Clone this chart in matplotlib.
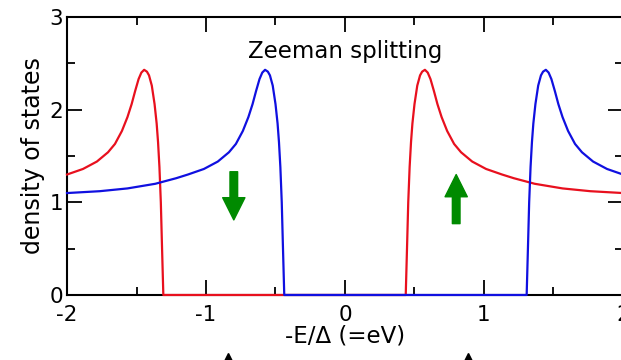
#!/usr/bin/env python3
# -*- coding: utf-8 -*-
"""Zeeman-split superconducting density of states (spin up / spin down)."""

import matplotlib

matplotlib.use("Agg")
import matplotlib.pyplot as plt
from matplotlib.ticker import MultipleLocator

# ==========================================================================
# Data
# ==========================================================================
# spin-up branch (red): shifted towards negative -E/Delta
RED_X = [-2.000, -1.885, -1.785, -1.705, -1.655, -1.605, -1.565, -1.535, -1.510,
         -1.485, -1.465, -1.445, -1.425, -1.410, -1.390, -1.370, -1.355, -1.345,
         -1.335, -1.325, -1.317, -1.307,
         0.437, 0.447, 0.455, 0.465, 0.475, 0.485, 0.500, 0.520, 0.540, 0.555,
         0.575, 0.595, 0.615, 0.640, 0.665, 0.695, 0.735, 0.785, 0.835, 0.915,
         1.015, 1.130, 1.215, 1.365, 1.565, 1.765, 2.000]
RED_Y = [1.30, 1.36, 1.44, 1.54, 1.63, 1.77, 1.92, 2.06, 2.20,
         2.33, 2.40, 2.43, 2.41, 2.37, 2.26, 2.06, 1.85, 1.65,
         1.38, 1.00, 0.55, 0.00,
         0.00, 0.55, 1.00, 1.38, 1.65, 1.85, 2.06, 2.26, 2.37, 2.41,
         2.43, 2.40, 2.33, 2.20, 2.06, 1.92, 1.77, 1.63, 1.54, 1.44,
         1.36, 1.30, 1.26, 1.20, 1.15, 1.12, 1.10]

# spin-down branch (blue): shifted towards positive -E/Delta
BLUE_X = [-2.000, -1.765, -1.565, -1.365, -1.215, -1.130, -1.015, -0.915, -0.835,
          -0.785, -0.735, -0.695, -0.665, -0.640, -0.615, -0.595, -0.575, -0.555,
          -0.540, -0.520, -0.500, -0.485, -0.475, -0.465, -0.455, -0.447, -0.437,
          1.307, 1.317, 1.325, 1.335, 1.345, 1.355, 1.370, 1.390, 1.410, 1.425,
          1.445, 1.465, 1.485, 1.510, 1.535, 1.565, 1.605, 1.655, 1.705, 1.785,
          1.885, 2.000]
BLUE_Y = [1.10, 1.12, 1.15, 1.20, 1.26, 1.30, 1.36, 1.44, 1.54,
          1.63, 1.77, 1.92, 2.06, 2.20, 2.33, 2.40, 2.43, 2.41,
          2.37, 2.26, 2.06, 1.85, 1.65, 1.38, 1.00, 0.55, 0.00,
          0.00, 0.55, 1.00, 1.38, 1.65, 1.85, 2.06, 2.26, 2.37, 2.41,
          2.43, 2.40, 2.33, 2.20, 2.06, 1.92, 1.77, 1.63, 1.54, 1.44,
          1.36, 1.30]

# green spin arrows: (x, tail y, tip y)
SPIN_ARROWS = [(-0.80, 1.33, 0.81), (0.80, 0.77, 1.30)]
# black markers below the x label
MARKER_X = [-0.84, 0.885]

XLIM = (-2, 2)
YLIM = (0, 3)

plt.rcParams["font.family"] = "DejaVu Sans"
plt.rcParams["axes.unicode_minus"] = False


def main():
    fig = plt.figure(figsize=(6.21, 3.6), dpi=100)
    ax = fig.add_axes([0.1079, 0.1806, 0.8953, 0.7722])

    ax.plot(RED_X, RED_Y, color="#e8101e", lw=1.6, zorder=3, clip_on=False)
    ax.plot(BLUE_X, BLUE_Y, color="#1010e0", lw=1.6, zorder=4, clip_on=False)

    for x, y0, y1 in SPIN_ARROWS:
        ax.arrow(x, y0, 0, y1 - y0, width=0.055, head_width=0.16,
                 head_length=0.24, length_includes_head=True,
                 color="#008a00", joinstyle="round", zorder=5)

    ax.plot(MARKER_X, [-0.232] * len(MARKER_X), "^", color="black", ms=9,
            transform=ax.get_xaxis_transform(), clip_on=False)

    ax.text(0.0, 2.63, "Zeeman splitting", ha="center", va="center", fontsize=16.5)

    ax.set_xlim(*XLIM)
    ax.set_ylim(*YLIM)
    ax.xaxis.set_major_locator(MultipleLocator(1))
    ax.xaxis.set_minor_locator(MultipleLocator(0.5))
    ax.yaxis.set_major_locator(MultipleLocator(1))
    ax.yaxis.set_minor_locator(MultipleLocator(0.5))
    ax.tick_params(which="both", direction="in", top=True, right=True, width=1.3)
    ax.tick_params(which="major", length=11)
    ax.tick_params(which="minor", length=5.5)
    ax.tick_params(axis="x", labelsize=15.5, pad=7)
    ax.tick_params(axis="y", labelsize=15.5, pad=3)
    for sp in ax.spines.values():
        sp.set_linewidth(1.5)

    ax.set_xlabel("-E/Δ (=eV)", fontsize=16.5, labelpad=0)
    ax.set_ylabel("density of states", fontsize=17, labelpad=3)

    fig.savefig("out.png", dpi=100)


if __name__ == "__main__":
    main()
